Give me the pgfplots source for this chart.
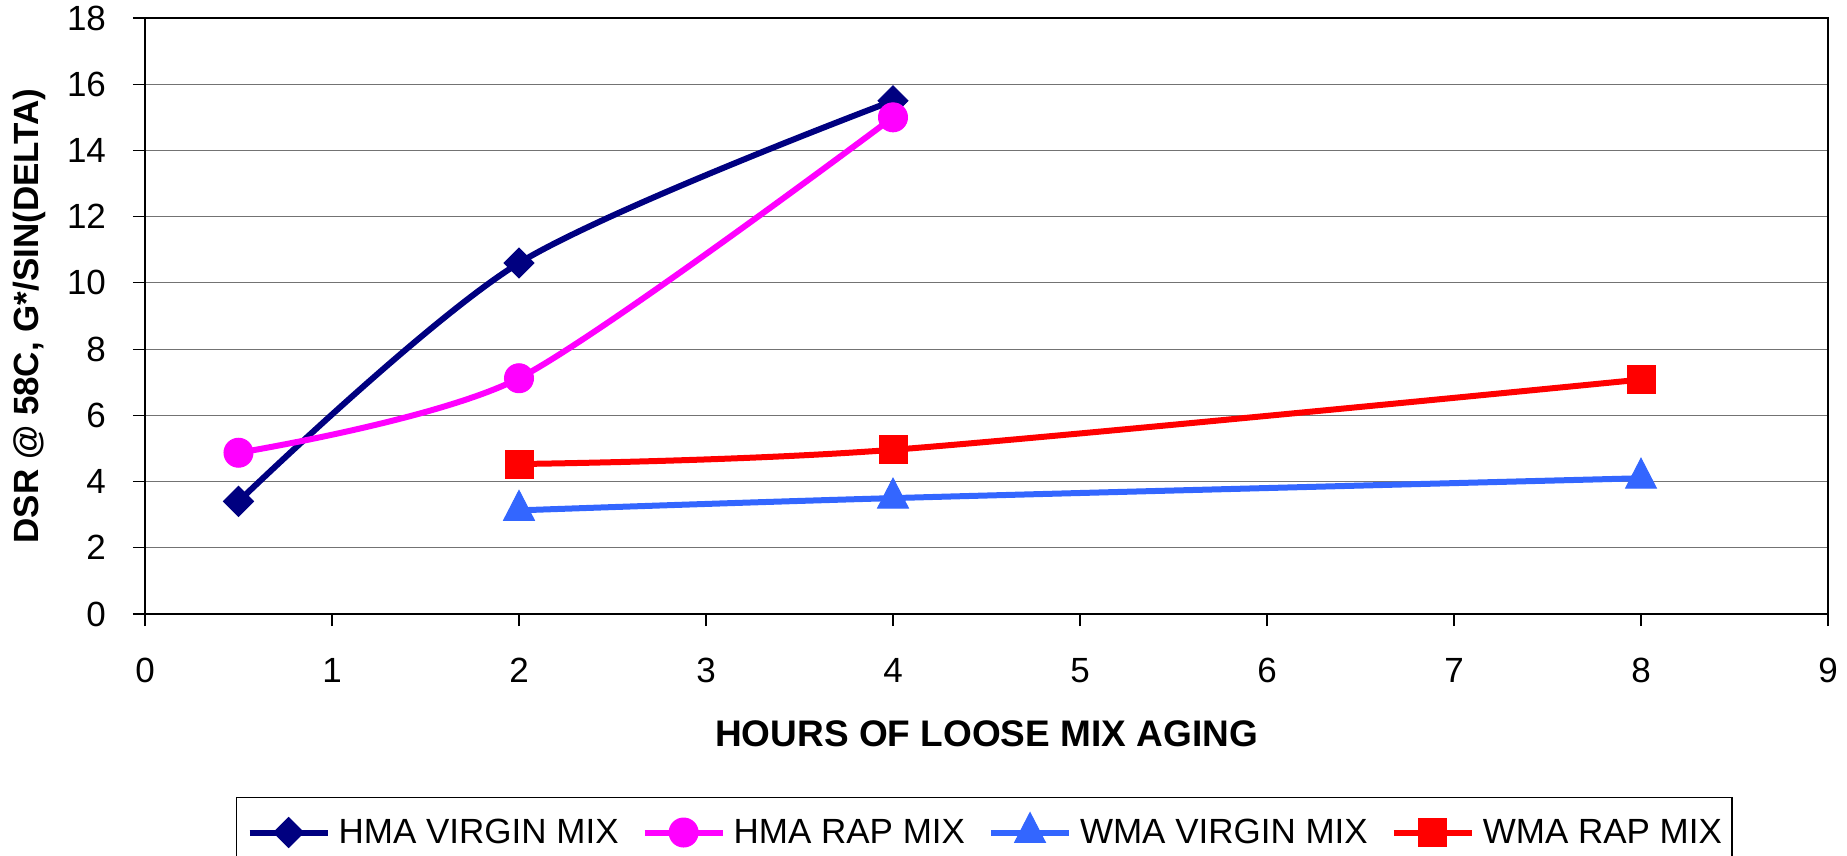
\documentclass[border=0pt]{standalone}
\usepackage{pgfplots}
\pgfplotsset{compat=1.18}
\usepackage{fontspec}
\setmainfont{Liberation Sans}
\definecolor{cnavy}{RGB}{0,0,128}
\definecolor{cmag}{RGB}{255,0,255}
\definecolor{cblue}{RGB}{51,102,255}
\definecolor{cred}{RGB}{255,0,0}
\begin{document}
\begin{tikzpicture}
\useasboundingbox (-72.5pt,-121pt) rectangle (851pt,307pt);
\begin{axis}[
  at={(0,0)}, anchor=south west,
  scale only axis, width=841.5pt, height=298pt,
  xmin=0, xmax=9, ymin=0, ymax=18,
  xtick={0,1,...,9}, ytick={0,2,...,18},
  ymajorgrids, major grid style={black!55, line width=0.6pt},
  axis line style={line width=1pt},
  tick align=outside, major tick length=6pt,
  tick style={black, line width=0.6pt},
  xtick pos=bottom, ytick pos=left,
  /pgf/number format/assume math mode=true,
  tick label style={font=\fontsize{17.5}{20}\selectfont},
  xticklabel style={yshift=-12.5pt},
  yticklabel style={xshift=-10pt},
  xlabel={HOURS OF LOOSE MIX AGING},
  ylabel={DSR @ 58C, G*/SIN(DELTA)},
  xlabel style={font=\bfseries\fontsize{18.5}{22}\selectfont, at={(axis description cs:0.5,-0.2005)}, anchor=center},
  ylabel style={font=\bfseries\fontsize{17.5}{21}\selectfont, at={(axis description cs:-0.0686,0.5)}, anchor=center},
  legend columns=4,
  legend style={at={(axis description cs:0.05407,-0.307)}, anchor=north west,
    draw=black, line width=0.6pt, inner xsep=5pt, inner ysep=7.5pt,
    font=\fontsize{17.5}{21}\selectfont,
    nodes={inner sep=0pt},
    /tikz/every odd column/.append style={column sep=4pt},
    /tikz/every even column/.append style={column sep=11.5pt}},
  legend image code/.code={\draw[mark repeat=2,mark phase=2,#1] plot coordinates {(0pt,0pt) (19.5pt,0pt) (39pt,0pt)};},
]
\addplot[cnavy, line width=3pt, smooth, tension=0.5, mark=square*, mark size=5.3pt, mark options={solid, line width=0.5pt, rotate=45}]
  coordinates {(0.5,3.40) (2,10.6) (4,15.5)};
\addlegendentry{HMA VIRGIN MIX}
\addplot[cmag, line width=3pt, smooth, tension=0.45, mark=*, mark size=7.25pt, mark options={solid, line width=0.5pt}]
  coordinates {(0.5,4.87) (2,7.12) (4,15.0)};
\addlegendentry{HMA RAP MIX}
\addplot[cblue, line width=3pt, smooth, mark=triangle*, mark size=8.9pt, mark options={solid, line width=0.5pt, yscale=1.12}]
  coordinates {(2,3.13) (4,3.5) (8,4.1)};
\addlegendentry{WMA VIRGIN MIX}
\addplot[cred, line width=3pt, smooth, mark=square*, mark size=7pt, mark options={solid, line width=0.5pt}]
  coordinates {(2,4.53) (4,4.96) (8,7.08)};
\addlegendentry{WMA RAP MIX}
\end{axis}
\end{tikzpicture}
\end{document}
